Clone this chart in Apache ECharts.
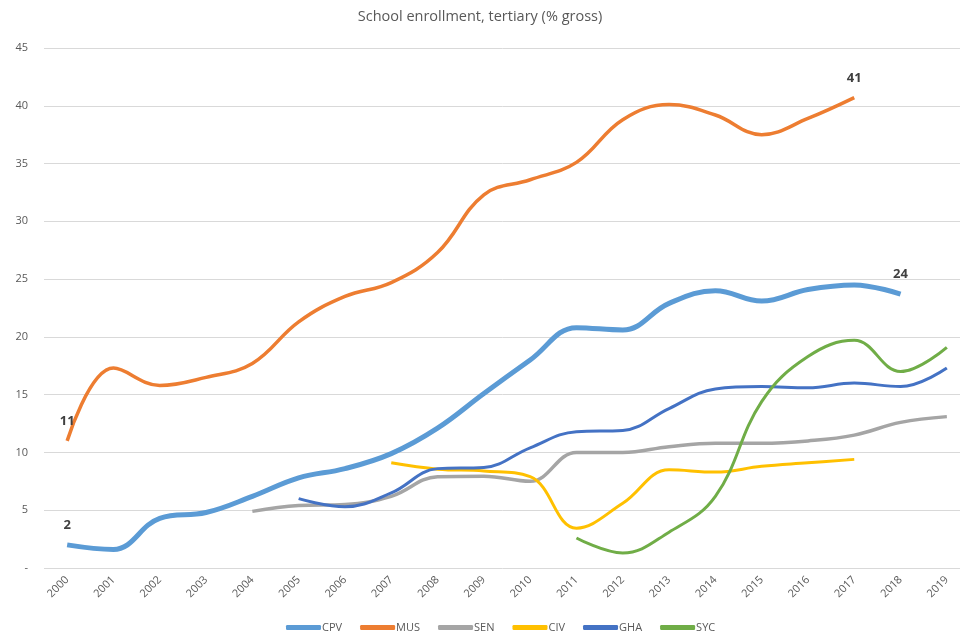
<!DOCTYPE html>
<html>
<head>
<meta charset="utf-8">
<script src="https://cdn.jsdelivr.net/npm/echarts@6/dist/echarts.min.js"></script>
<style>
  html, body { margin: 0; padding: 0; background: #fff; }
  #chart { width: 960px; height: 642px; }
</style>
</head>
<body>
<div id="chart"></div>
<script>
const years = ['2000', '2001', '2002', '2003', '2004', '2005', '2006', '2007', '2008', '2009',
    '2010', '2011', '2012', '2013', '2014', '2015', '2016', '2017', '2018', '2019'];

const cpv = [2.0, 1.6, 4.3, 4.8, 6.2, 7.8, 8.6, 9.9, 12.1, 15.1, 18.0, 20.8, 20.6, 22.9, 24.0, 23.1, 24.1, 24.5, 23.7, null];
const mus = [11.0, 17.3, 15.8, 16.5, 17.7, 21.3, 23.5, 24.7, 27.3, 32.3, 33.6, 35.1, 38.8, 40.1, 39.2, 37.5, 38.9, 40.7, null, null];
const sen = [null, null, null, null, 4.9, 5.4, 5.5, 6.2, 7.9, 7.95, 7.5, 10.0, 10.0, 10.5, 10.8, 10.8, 11.0, 11.5, 12.6, 13.1];
const civ = [null, null, null, null, null, null, null, 9.1, 8.55, 8.4, 7.9, 3.45, 5.6, 8.5, 8.3, 8.8, 9.1, 9.4, null, null];
const gha = [null, null, null, null, null, 6.0, 5.3, 6.5, 8.6, 8.7, 10.4, 11.8, 11.9, 13.8, 15.5, 15.7, 15.6, 16.0, 15.7, 17.3];
const syc = [null, null, null, null, null, null, null, null, null, null, null, 2.6, 1.3, 3.1, 6.2, 14.4, 18.3, 19.7, 17.0, 19.1];

// which points carry a data label (index into years)
const labelled = { CPV: [0, 18], MUS: [0, 17] };

const seriesDefs = [
    { name: 'CPV', data: cpv, color: '#5B9BD5', width: 5 },
    { name: 'MUS', data: mus, color: '#ED7D31', width: 3.5 },
    { name: 'SEN', data: sen, color: '#A5A5A5', width: 3.5 },
    { name: 'CIV', data: civ, color: '#FFC000', width: 3 },
    { name: 'GHA', data: gha, color: '#4472C4', width: 3 },
    { name: 'SYC', data: syc, color: '#70AD47', width: 3 }
];

const chart = echarts.init(document.getElementById('chart'));

const series = seriesDefs.map(s => ({
    name: s.name,
    type: 'line',
    smooth: 0.4,
    symbol: 'circle',
    symbolSize: 0,
    showSymbol: true,
    connectNulls: false,
    color: s.color,
    lineStyle: { color: s.color, width: s.width },
    label: { show: false },
    data: s.data.map((v, i) => {
        if ((labelled[s.name] || []).includes(i)) {
            return {
                value: v,
                label: {
                    show: true,
                    position: 'top',
                    distance: 13,
                    formatter: p => Math.round(p.value),
                    color: '#404040',
                    fontWeight: 'bold',
                    fontSize: 13,
                    fontFamily: 'Open Sans'
                }
            };
        }
        return v;
    })
}));

chart.setOption({
    animation: false,
    backgroundColor: '#fff',
    textStyle: { fontFamily: 'Open Sans' },
    title: {
        text: 'School enrollment, tertiary (% gross)',
        left: 'center',
        top: 4,
        textStyle: { color: '#595959', fontSize: 14.5, fontWeight: 'normal', fontFamily: 'Open Sans' }
    },
    legend: {
        bottom: 4,
        left: 281,
        icon: 'roundRect',
        itemWidth: 35,
        itemHeight: 5,
        itemGap: 18,
        textStyle: { color: '#595959', fontSize: 11, padding: [0, 0, 0, -4] },
        data: seriesDefs.map(s => s.name)
    },
    grid: { left: 44, width: 926, top: 48, bottom: 74, outerBoundsMode: 'none' },
    xAxis: {
        type: 'category',
        data: years,
        boundaryGap: true,
        axisLine: { show: false },
        axisTick: { show: false },
        axisLabel: { color: '#595959', fontSize: 11, rotate: 45, margin: 10, interval: 0 }
    },
    yAxis: {
        type: 'value',
        min: 0,
        max: 45,
        interval: 5,
        axisLine: { show: false },
        axisTick: { show: false },
        splitLine: { lineStyle: { color: '#D9D9D9', width: 1 } },
        axisLabel: {
            color: '#595959',
            fontSize: 11,
            margin: 16,
            formatter: v => (v === 0 ? '-' : v)
        }
    },
    series: series
});
</script>
</body>
</html>
